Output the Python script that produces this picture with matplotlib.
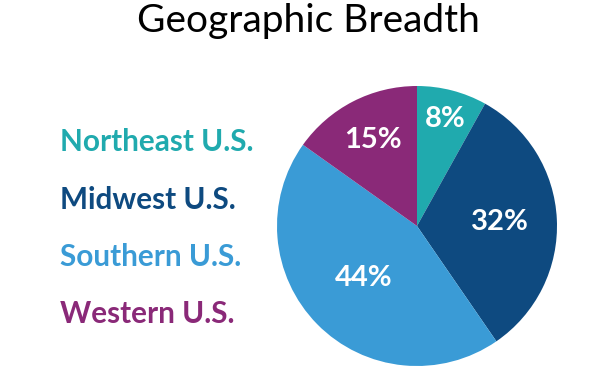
import numpy as np
import matplotlib.pyplot as plt

regions = ['Northeast U.S.', 'Midwest U.S.', 'Southern U.S.', 'Western U.S.']
shares = [8, 32, 44, 15]
colors = ['#20aaae', '#0e4a80', '#3a9bd6', '#8a2978']

W, H = 615, 366
fig = plt.figure(figsize=(W / 100, H / 100), dpi=100)


def px(x, y):
    # pixel coords (top-left origin) -> figure fraction
    return x / W, 1 - y / H


fig.text(*px(308, 21), 'Geographic Breadth', ha='center', va='center',
         fontsize=28, family='Lato', color='black')

label_y = [142, 200, 257, 314]
for name, c, y in zip(regions, colors, label_y):
    fig.text(*px(60, y), name, ha='left', va='center', fontsize=21.4,
             family='Lato', fontweight='bold', color=c)

# pie: center (417, 226), radius 140 px
ax = fig.add_axes([277 / W, 0, 280 / W, 280 / H])
wedges, _ = ax.pie(shares, colors=colors, startangle=90, counterclock=False,
                   radius=1, wedgeprops=dict(linewidth=0))
ax.set_xlim(-1, 1)
ax.set_ylim(-1, 1)
ax.set_aspect('auto')
ax.axis('off')

label_r = [0.79, 0.59, 0.53, 0.69]
for w, v, r in zip(wedges, shares, label_r):
    ang = np.deg2rad((w.theta1 + w.theta2) / 2)
    ax.text(r * np.cos(ang), r * np.sin(ang), f'{v}%', ha='center', va='center',
            fontsize=21, family='Lato', fontweight='bold', color='white')

fig.savefig('out.png', dpi=100)
